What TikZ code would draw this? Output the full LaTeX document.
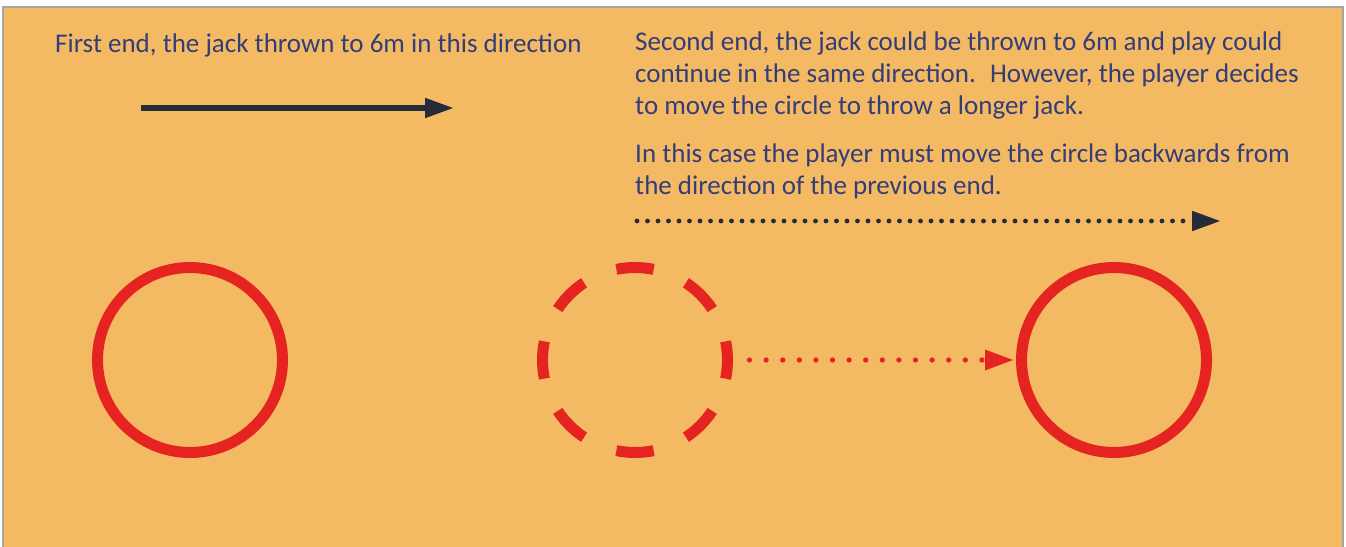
\documentclass[tikz,border=0pt]{standalone}
\usepackage{fontspec}
\setmainfont{Carlito}
\usetikzlibrary{arrows.meta}
\definecolor{mat}{HTML}{F4BA63}
\definecolor{jackred}{HTML}{E52421}
\definecolor{ink}{HTML}{333D79}
\definecolor{shaft}{HTML}{252B37}
\definecolor{frame}{HTML}{A6A6A6}

\begin{document}
\begin{tikzpicture}[x=1pt, y=-1pt,
  ring/.style={circle, draw=jackred, line width=11pt, inner sep=0pt, minimum size=185pt},
  ghost/.style={ring, dash pattern=on 37.5pt off 35.15pt, dash phase=18.75pt},
  note/.style={font=\fontsize{27}{32}\selectfont, text=ink, inner sep=0pt, align=left},
  reddots/.style={draw=jackred, line width=5.3pt, line cap=round, dash pattern=on 0pt off 16.6pt,
    -{Triangle[length=28pt, width=21pt, line width=0pt]}},
  darkdots/.style={draw=shaft, line width=4.8pt, line cap=round, dash pattern=on 0pt off 10.5pt,
    -{Triangle[length=28pt, width=20.5pt, line width=0pt]}}
]
  \useasboundingbox (0,0) rectangle (1346,546);

  % Mat (bottom edge runs off the page)
  \filldraw[fill=mat, draw=frame, line width=2.5pt] (3,7) rectangle (1343,560);

  % First end
  \node[note, anchor=base west] (firstnote) at (55,52)
    {First end, the jack thrown to 6m in this direction};
  \coordinate (jacktail) at (141,108);
  \coordinate (jacktip) at (453,108);
  \draw[shaft, line width=5.7pt, -{Triangle[length=28pt, width=20.5pt, line width=0pt]}]
    (jacktail) -- (jacktip);

  % Second end
  \node[note, anchor=north west] (secondnote) at (635,32)
    {Second end, the jack could be thrown to 6m and play could\\
     continue in the same direction.~ However, the player decides\\
     to move the circle to throw a longer jack.\\[15.5pt]
     In this case the player must move the circle backwards from\\
     the direction of the previous end.};
  \coordinate (backtail) at (637,221);
  \coordinate (backtip) at (1220,221);
  \draw[darkdots] (backtail) -- (backtip);

  % Circles
  \node[ring] (firstring) at (190,360) {};
  \node[ghost] (oldring) at (635,360) {};
  \node[ring] (newring) at (1114,360) {};

  % Circle moved
  \draw[reddots, shorten <=16.5pt, shorten >=3pt] (oldring.east) -- (newring.west);
\end{tikzpicture}
\end{document}
